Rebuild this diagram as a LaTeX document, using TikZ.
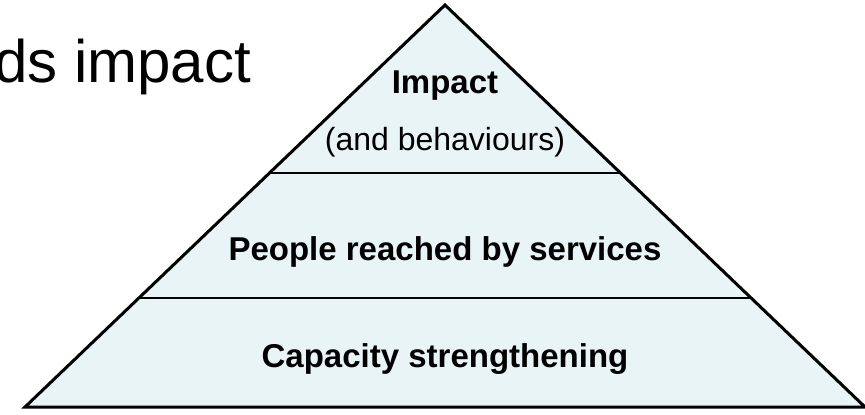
\documentclass[tikz,border=0pt]{standalone}
\usepackage{fontspec}
\setmainfont{Liberation Sans}
\usetikzlibrary{calc}
\definecolor{fondo}{RGB}{232,244,246}

\begin{document}
\begin{tikzpicture}[x=1pt, y=-1pt,
    nivel/.style={font=\fontsize{33}{38}\selectfont\bfseries, anchor=base},
    nota/.style={font=\fontsize{32}{37}\selectfont, anchor=base},
    titulo/.style={font=\fontsize{60}{70}\selectfont, anchor=base west, inner sep=0pt},
    borde/.style={draw=black, line width=3pt, fill=fondo, line join=miter},
    corte/.style={draw=black, line width=2pt}
  ]
    \useasboundingbox (0,0) rectangle (865,415);
    \clip (0,0) rectangle (865,415);

    \node[titulo] (titulo) at (-6,82) {ds impact};

    % la piramide
    \coordinate (cima) at (445,5);
    \coordinate (izq) at (25,407);
    \coordinate (der) at (865,407);
    \draw[borde] (izq) -- (cima) -- (der) -- cycle;

    \coordinate (a1) at ($(cima)!0.418!(izq)$);
    \coordinate (b1) at ($(cima)!0.418!(der)$);
    \coordinate (a2) at ($(cima)!0.729!(izq)$);
    \coordinate (b2) at ($(cima)!0.729!(der)$);
    \draw[corte] (a1) -- (b1);
    \draw[corte] (a2) -- (b2);

    \node[nivel] (impacto) at (445,93) {Impact};
    \node[nota] (conducta) at (445,150) {(and behaviours)};
    \node[nivel] (personas) at (445,260) {People reached by services};
    \node[nivel] (capacidad) at (445,367) {Capacity strengthening};
\end{tikzpicture}
\end{document}
